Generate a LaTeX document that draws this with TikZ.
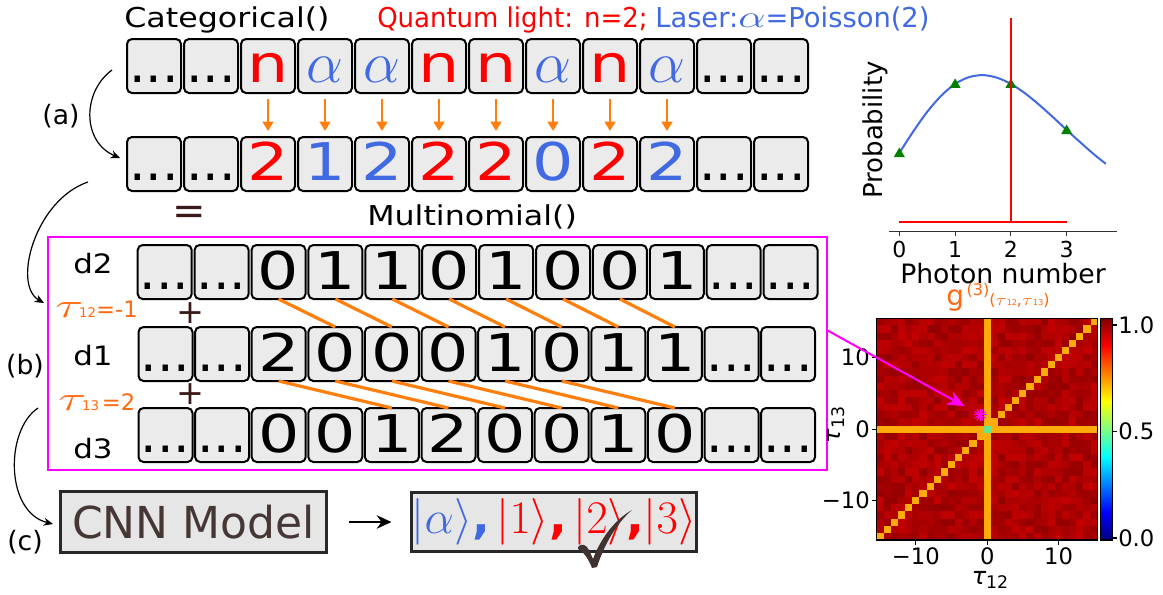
\RequirePackage{fix-cm}
\documentclass[tikz,border=0pt]{standalone}
\usepackage{fontspec}
\setmainfont{DejaVu Sans}
\newfontfamily\dv{DejaVu Sans}
\newfontfamily\dvw[FakeStretch=1.16]{DejaVu Sans}
\newfontfamily\dvc[FakeStretch=1.25]{DejaVu Sans}
\usepackage{graphicx}
\usetikzlibrary{arrows.meta,calc}

\definecolor{cellfill}{RGB}{235,235,235}
\definecolor{qred}{RGB}{255,0,0}
\definecolor{lblue}{RGB}{65,105,225}
\definecolor{orng}{RGB}{255,127,14}
\definecolor{tauor}{RGB}{255,105,15}
\definecolor{dbrown}{RGB}{60,25,25}
\definecolor{cnntext}{RGB}{70,55,55}
\definecolor{boxfill}{RGB}{230,230,230}
\definecolor{boxdraw}{RGB}{40,40,40}
\definecolor{mag}{RGB}{255,0,255}
\definecolor{pgreen}{RGB}{0,128,0}
\definecolor{hmorange}{RGB}{255,172,10}
\definecolor{hmgreen}{RGB}{100,230,140}
\definecolor{chk}{RGB}{65,50,50}
\definecolor{axgray}{RGB}{50,50,50}
\definecolor{jet0}{RGB}{0,0,128}
\definecolor{jet1}{RGB}{0,0,255}
\definecolor{jet2}{RGB}{0,255,255}
\definecolor{jet3}{RGB}{255,255,0}
\definecolor{jet4}{RGB}{255,0,0}
\definecolor{jet5}{RGB}{128,0,0}

\newcommand{\fsz}[1]{\fontsize{#1}{#1}\selectfont}
\newcommand{\Dt}{{\dv\fsz{39pt}...}}
\newcommand{\Cn}[1]{{\dvc\fsz{39pt}#1}}
\newcommand{\Ca}{{\fsz{44pt}$\alpha$}}
\newcommand{\cellrow}[6]{%
  \foreach \c/\col [count=\k from 0] in {#6}{%
    \node[cell] (#1c\k) at ({#2+#3*\k},#4) {};
    \node[anchor=base, inner sep=0pt, text=\col] at ([yshift=#5]#1c\k.south) {\c};
  }}

\tikzset{
  cell/.style={draw=black, line width=1.5pt, fill=cellfill, rounded corners=3.75pt,
    minimum width=40.5pt, minimum height=40.5pt, inner sep=0pt, outer sep=0pt},
  oarrow/.style={draw=orng, line width=1.8pt, -{Triangle[length=7pt,width=8pt]},
    shorten <=4.5pt, shorten >=4.5pt},
  oline/.style={draw=orng, line width=2.4pt},
  bigarr/.style={draw=black, line width=0.9pt, -{Stealth[length=7pt,width=6pt]}},
  lbl/.style={inner sep=0pt},
}

\begin{document}
\begin{tikzpicture}[x=0.75pt, y=-0.75pt]
\fill[white] (0,0) rectangle (1163,594);
\useasboundingbox (0,0) rectangle (1163,594);

% ---- titles
\node[lbl, anchor=base west] (tcat) at (124,27) {\dvw\fsz{20.5pt}Categorical()};
\node[lbl, anchor=base west, text=qred] (tq) at (377,27) {\fsz{20.5pt}\scalebox{0.95}[1]{Quantum light: n=2;}};
\node[lbl, anchor=base west, text=lblue] (tl) at (655,27) {\fsz{20.5pt}Laser:{\fsz{26pt}\scalebox{1.25}[0.9]{$\alpha$}}=Poisson(2)};

% ---- rows
\cellrow{ra}{154}{57}{66}{7.7pt}{\Dt/black,\Dt/black,\Cn{n}/qred,\Ca/lblue,\Ca/lblue,\Cn{n}/qred,\Cn{n}/qred,\Ca/lblue,\Cn{n}/qred,\Ca/lblue,\Dt/black,\Dt/black}
\cellrow{rb}{154}{57}{164}{7.7pt}{\Dt/black,\Dt/black,\Cn{2}/qred,\Cn{1}/lblue,\Cn{2}/lblue,\Cn{2}/qred,\Cn{2}/qred,\Cn{0}/lblue,\Cn{2}/qred,\Cn{2}/lblue,\Dt/black,\Dt/black}
\foreach \k in {2,...,9} \draw[oarrow] (rac\k.south) -- (rbc\k.north);

\node[lbl, text=dbrown] (eq) at (189,215) {\fsz{30pt}=};
\node[lbl, anchor=base west] (tmul) at (367,225) {\dvw\fsz{20.5pt}Multinomial()};

% ---- magenta box and detector rows
\node[draw=mag, line width=1.5pt, minimum width=584.25pt, minimum height=175pt, inner sep=0pt] (mbox) at (437.2,353.35) {};
\cellrow{dB}{164.7}{56.9}{272}{6.9pt}{\Dt/black,\Dt/black,\Cn{0}/black,\Cn{1}/black,\Cn{1}/black,\Cn{0}/black,\Cn{1}/black,\Cn{0}/black,\Cn{0}/black,\Cn{1}/black,\Dt/black,\Dt/black}
\cellrow{dA}{165.5}{56.6}{354}{6.9pt}{\Dt/black,\Dt/black,\Cn{2}/black,\Cn{0}/black,\Cn{0}/black,\Cn{0}/black,\Cn{1}/black,\Cn{0}/black,\Cn{1}/black,\Cn{1}/black,\Dt/black,\Dt/black}
\cellrow{dC}{165.5}{56.6}{435}{6.9pt}{\Dt/black,\Dt/black,\Cn{0}/black,\Cn{0}/black,\Cn{1}/black,\Cn{2}/black,\Cn{0}/black,\Cn{0}/black,\Cn{1}/black,\Cn{0}/black,\Dt/black,\Dt/black}
\foreach \k in {2,...,8}{\pgfmathtruncatemacro{\kk}{\k+1}\draw[oline] (dBc\k.south) -- (dAc\kk.north);}
\foreach \k in {2,...,7}{\pgfmathtruncatemacro{\kk}{\k+2}\draw[oline] (dAc\k.south) -- (dCc\kk.north);}

\node[lbl, anchor=base west] (ld2) at (73,273) {\dvw\fsz{20pt}d2};
\node[lbl, anchor=base west] (ld1) at (73,365) {\dvw\fsz{20pt}d1};
\node[lbl, anchor=base west] (ld3) at (73,458) {\dvw\fsz{20pt}d3};
\node[lbl, text=dbrown] (pl1) at (190,313) {\fsz{25pt}+};
\node[lbl, text=dbrown] (pl2) at (190,394) {\fsz{25pt}+};
\node[lbl, anchor=base west, text=tauor] (t12) at (55,317) {\fsz{26pt}\scalebox{1.5}[1]{$\tau$}\hspace{-3pt}{\fsz{10pt}12}{\fsz{17pt}=-1}};
\node[lbl, anchor=base west, text=tauor] (t13) at (58,410) {\fsz{26pt}\scalebox{1.5}[1]{$\tau$}\hspace{-3pt}{\fsz{10pt}13}\hspace{2pt}{\fsz{17pt}=2}};

% ---- step labels and curved arrows
\node[lbl] (la) at (61,116) {\fsz{20pt}(a)};
\node[lbl] (lb) at (25,366) {\fsz{20pt}(b)};
\node[lbl] (lc) at (25,542) {\fsz{20pt}(c)};
\coordinate (aS) at (112,70);
\coordinate (aE) at (120,158);
\draw[bigarr] (aS) .. controls (82,92) and (82,142) .. (aE);
\coordinate (bS) at (88,182);
\coordinate (bE) at (44,303);
\draw[bigarr] (bS) .. controls (35,200) and (12,285) .. (bE);
\coordinate (cS) at (38,408);
\coordinate (cE) at (53,524);
\draw[bigarr] (cS) .. controls (5,430) and (5,512) .. (cE);

% ---- CNN and kets
\node[draw=boxdraw, line width=2pt, fill=boxfill, minimum width=199.7pt, minimum height=46pt, inner sep=0pt, text=cnntext] (cnn) at (193.5,522) {\fsz{33pt}CNN Model};
\node[draw=boxdraw, line width=2pt, fill=boxfill, minimum width=214pt, minimum height=44.5pt, inner sep=0pt] (ket) at (554,522)
  {\fsz{35pt}\textcolor{lblue}{$|\alpha\rangle$\textbf{,}}\hspace{5pt}\textcolor{qred}{$|1\rangle$\textbf{,}\hspace{5pt}$|2\rangle$\textbf{,}$|3\rangle$}};
\draw[line width=2pt, -{Stealth[length=11pt,width=10pt]}, shorten <=16pt, shorten >=13.9pt] (cnn) -- (ket);
\fill[chk] (578,547) .. controls (581,543) and (586,544) .. (589,550)
  .. controls (591,554) and (592,557) .. (593,559)
  .. controls (600,540) and (614,520) .. (632,510)
  .. controls (618,522) and (605,542) .. (597,567)
  -- (592,568) .. controls (589,560) and (584,552) .. (578,549) -- cycle;

% ---- probability plot
\node[lbl, rotate=90] (ylab) at (875,130) {\fsz{19.5pt}Probability};
\draw[axgray, line width=0.8pt] (889,231.3) -- (1117,231.3);
\foreach \x/\t in {899.3/0,955.1/1,1010.9/2,1066.7/3}{
  \draw[axgray, line width=0.8pt] (\x,231.3) -- (\x,235.5);
  \node[lbl, anchor=base] at (\x,257) {\fsz{16.5pt}\t};
}
\node[lbl, anchor=base] (xlab) at (1003,283) {\fsz{20pt}Photon number};
\draw[lblue, line width=1.5pt] plot[smooth] coordinates {(899.3,153.0) (913.3,131.4) (927.2,111.8) (941.2,95.7) (955.1,83.9) (969.1,77.1) (983.0,75.1) (997.0,77.7) (1010.9,83.9) (1024.9,93.2) (1038.8,104.5) (1052.8,117.0) (1066.7,130.0) (1080.7,142.7) (1094.6,154.9) (1105.8,163.8)};
\foreach \px/\py in {899.3/153,955.1/83.9,1010.9/83.9,1066.7/130}
  \fill[pgreen] (\px,\py) ++(-5.5,4) -- ++(11,0) -- ++(-5.5,-9.5) -- cycle;
\draw[qred, line width=1.1pt] (899,222) -- (1067,222);
\draw[qred, line width=1.1pt] (1011,18) -- (1011,222);

% ---- heatmap
\pgfmathsetseed{7}
\foreach \i in {0,...,30}{
  \foreach \j in {0,...,30}{
    \pgfmathrandominteger{\rr}{58}{76}
    \colorlet{cc}{red!\rr!black}
    \ifnum\i=15 \colorlet{cc}{hmorange}\fi
    \ifnum\j=15 \colorlet{cc}{hmorange}\fi
    \ifnum\i=\j \colorlet{cc}{hmorange}\fi
    \ifnum\i=15 \ifnum\j=15 \colorlet{cc}{hmgreen}\fi\fi
    \fill[cc] ({876.7+\i*7.129},{540-(\j+1)*7.152-0.3}) rectangle ({876.7+(\i+1)*7.129+0.3},{540-\j*7.152});
  }
}
\draw[black, line width=0.8pt] (876.7,318.3) rectangle (1097.7,540);
\foreach \y/\t in {357.6/10,429.1/0,500.7/−10}{
  \draw[black, line width=0.8pt] (872,\y) -- (876.7,\y);
  \node[lbl, anchor=east] at (870,\y) {\fsz{17pt}\t};
}
\foreach \x/\t in {915.9/−10,987.2/0,1058.5/10}{
  \draw[black, line width=0.8pt] (\x,540) -- (\x,545);
  \node[lbl, anchor=base] at (\x,564) {\fsz{17pt}\t};
}
\node[lbl, anchor=base] (hx) at (990,584) {\fsz{18pt}\itshape τ\raisebox{-3.5pt}{\fsz{13pt}\upshape 12}};
\node[lbl, rotate=90] (hy) at (836,425) {\fsz{18pt}\itshape τ\raisebox{-3.5pt}{\fsz{13pt}\upshape 13}};
\node[lbl, anchor=base west, text=tauor] (htitle) at (946,305) {\fsz{21pt}g\hspace{2pt}\raisebox{7pt}{\fsz{12pt}(3)}{\fsz{12pt}(\scalebox{1.3}[1]{$\tau$}{\fsz{6pt}12},\scalebox{1.3}[1]{$\tau$}{\fsz{6pt}13})}};

% colorbar
\shade[bottom color=jet0, top color=jet1] (1100.7,540) rectangle (1112.7,511.8);
\shade[bottom color=jet1, top color=jet2] (1100.7,512.3) rectangle (1112.7,456.4);
\shade[bottom color=jet2, top color=jet3] (1100.7,456.9) rectangle (1112.7,400.9);
\shade[bottom color=jet3, top color=jet4] (1100.7,401.4) rectangle (1112.7,345.5);
\shade[bottom color=jet4, top color=jet5] (1100.7,346.0) rectangle (1112.7,318.3);
\draw[black, line width=0.8pt] (1100.7,318.3) rectangle (1112.7,540);
\foreach \y/\t in {325/1.0,431.5/0.5,538/0.0}{
  \draw[black, line width=0.8pt] (1112.7,\y) -- (1117,\y);
  \node[lbl, anchor=west] at (1118,\y) {\fsz{17pt}\t};
}

% star and magenta arrow
\node[inner sep=0pt, minimum size=9pt] (star) at (980.1,414.9) {};
\foreach \a in {0,30,...,150}
  \draw[mag, line width=0.8pt] ([shift={(\a:4.8pt)}]star.center) -- ([shift={(\a+180:4.8pt)}]star.center);
\coordinate (mA) at (826.7,330);
\draw[mag, line width=1.5pt, -{Stealth[length=13pt,width=11pt]}, shorten >=8pt] (mA) -- (star);
\end{tikzpicture}
\end{document}
